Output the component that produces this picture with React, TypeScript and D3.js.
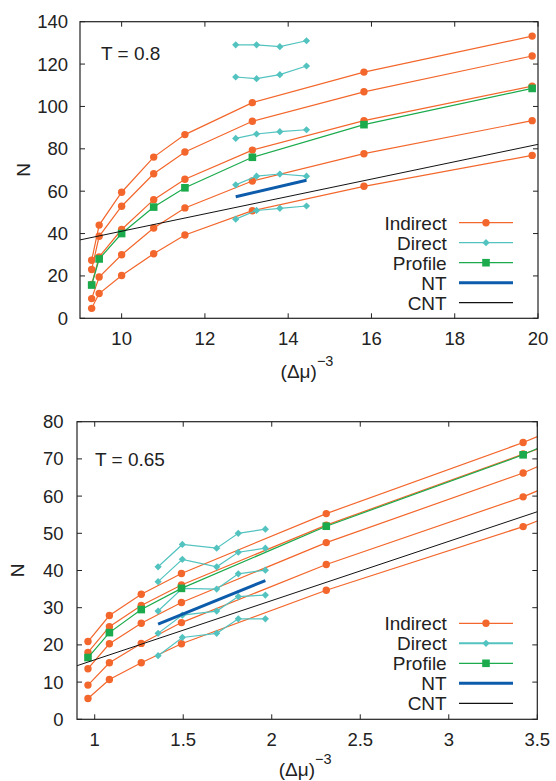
import React from "react";
import * as d3 from "d3";

const W = 556;
const H = 781;

// ---------- Top panel, T = 0.8 ----------
const topIndirectX = [9.28, 9.46, 10.0, 10.77, 11.52, 13.14, 15.82, 19.86];
const topIndirect1 = [27.4, 44, 59.5, 76.1, 86.7, 101.8, 116.2, 133.2];
const topIndirect2 = [23, 38.7, 52.9, 68.2, 78.5, 93, 106.9, 123.8];
const topIndirect3 = [16, 29, 41.9, 56, 65.6, 79.4, 93.3, 109.6];
const topIndirect4 = [9.3, 19.5, 30, 42.6, 52.1, 64.8, 77.7, 93.3];
const topIndirect5 = [4.7, 11.7, 20.2, 30.5, 39.3, 50.8, 62.3, 76.9];
const topProfile = [15.7, 28, 40, 52.5, 61.6, 76, 91.4, 108.5];
const topDirectX = [12.74, 13.24, 13.8, 14.44];
const topDirect1 = [129.1, 129.1, 128.2, 131];
const topDirect2 = [113.9, 113.1, 115, 119.1];
const topDirect3 = [84.9, 87, 88.1, 89];
const topDirect4 = [63, 67.1, 68.1, 67.1];
const topDirect5 = [46.8, 50.9, 51.9, 53];
const topNTX = [12.74, 14.44];
const topNT = [57.4, 65.2];
const topCNTX = [9, 20];
const topCNT = [37, 82.1];
const topXTicks = [10, 12, 14, 16, 18, 20];
const topYTicks = [0, 20, 40, 60, 80, 100, 120, 140];

// ---------- Bottom panel, T = 0.65 ----------
// the lines keep going past the last marker up to the right edge of the frame
const botIndirectX = [0.962, 1.083, 1.263, 1.49, 2.308, 3.42];
const botEdgeX = 3.5;
const botIndirect1 = [20.9, 27.9, 33.6, 39.2, 55.3, 74.4];
const botIndirect2 = [18, 24.9, 30.6, 36.1, 52.2, 71.3];
const botIndirect3 = [13.6, 20.3, 25.8, 31.4, 47.5, 66.2];
const botIndirect4 = [9.2, 15.2, 20.4, 26, 41.6, 59.8];
const botIndirect5 = [5.6, 10.7, 15.2, 20.3, 34.7, 51.8];
const botIndirectEdge = [76.0, 72.6, 67.9, 61.4, 53.3];
const botProfile = [16.6, 23.3, 29.5, 35.2, 51.9, 71.1];
const botProfileEdge = 72.8;
const botDirectX = [1.358, 1.495, 1.689, 1.811, 1.964];
const botDirect1 = [41, 47, 46, 50, 51.1];
const botDirect2 = [37, 43, 41, 44.9, 46];
const botDirect3 = [29.1, 35.2, 35, 39.1, 40.1];
const botDirect4 = [23.1, 28, 29.1, 33, 33.4];
const botDirect5 = [17.1, 22, 23.1, 27, 27];
const botNTX = [1.358, 1.964];
const botNT = [25.6, 37.3];
const botCNTX = [0.9, 3.5];
const botCNT = [14.4, 55.8];
const botXTicks = [1, 1.5, 2, 2.5, 3, 3.5];
const botYTicks = [0, 10, 20, 30, 40, 50, 60, 70, 80];

const legendLabels = ["Indirect", "Direct", "Profile", "NT", "CNT"];

const ORANGE = "#f3672c";
const CYAN = "#52c3bf";
const GREEN = "#1bab4d";
const BLUE = "#0d5cab";
const BLACK = "#111";
const FONT = "'Liberation Sans', Arial, Helvetica, sans-serif";

type Series = { xs: number[]; ys: number[]; nMarks: number };

const diamond = (r: number) => `M0,${-r}L${r},0L0,${r}L${-r},0Z`;

function Marker({ kind, x, y }: { kind: string; x: number; y: number }) {
  if (kind === "circle") return <circle cx={x} cy={y} r={3.7} fill={ORANGE} />;
  if (kind === "square")
    return <rect x={x - 3.8} y={y - 3.8} width={7.6} height={7.6} fill={GREEN} />;
  return <path d={diamond(3.6)} transform={`translate(${x},${y})`} fill={CYAN} />;
}

type PanelProps = {
  id: string;
  left: number;
  right: number;
  top: number;
  bottom: number;
  xDomain: [number, number];
  yDomain: [number, number];
  xTicks: number[];
  yTicks: number[];
  indirect: Series[];
  direct: Series[];
  profile: Series;
  nt: Series;
  cnt: Series;
  label: string;
  labelX: number;
  labelY: number;
  yLabelGap: number;
  nX: number;
  legendY: number;
  titleDy: number;
  directLegendWidth: number;
};

function Panel(p: PanelProps) {
  const x = d3.scaleLinear().domain(p.xDomain).range([p.left, p.right]);
  const y = d3.scaleLinear().domain(p.yDomain).range([p.bottom, p.top]);
  const line = d3
    .line<[number, number]>()
    .x((d) => x(d[0]))
    .y((d) => y(d[1]));
  const pts = (s: Series) => s.xs.map((v, i) => [v, s.ys[i]] as [number, number]);
  const clipId = `clip-${p.id}`;
  const tickLen = 5;

  const drawSeries = (s: Series, color: string, width: number, kind: string | null, key: string) => (
    <g key={key}>
      <path d={line(pts(s)) || ""} fill="none" stroke={color} strokeWidth={width} />
      {kind &&
        pts(s)
          .slice(0, s.nMarks)
          .map((d, i) => <Marker key={i} kind={kind} x={x(d[0])} y={y(d[1])} />)}
    </g>
  );

  const lx0 = 459;
  const lx1 = 513;
  const lxm = 486;
  const ltx = 446.7;

  return (
    <g>
      <defs>
        <clipPath id={clipId}>
          <rect x={p.left} y={p.top} width={p.right - p.left} height={p.bottom - p.top} />
        </clipPath>
      </defs>
      <g clipPath={`url(#${clipId})`}>
        {p.indirect.map((s, i) => drawSeries(s, ORANGE, 1.2, "circle", `ind${i}`))}
        {p.direct.map((s, i) => drawSeries(s, CYAN, 1.2, "diamond", `dir${i}`))}
        {drawSeries(p.profile, GREEN, 1.2, "square", "prof")}
        {drawSeries(p.nt, BLUE, 3, null, "nt")}
        {drawSeries(p.cnt, BLACK, 1, null, "cnt")}
      </g>

      {/* ticks */}
      {p.xTicks.map((t) => (
        <g key={`xt${t}`}>
          <line x1={x(t)} x2={x(t)} y1={p.bottom} y2={p.bottom - tickLen} stroke="#222" strokeWidth={1} />
          <line x1={x(t)} x2={x(t)} y1={p.top} y2={p.top + tickLen} stroke="#222" strokeWidth={1} />
          <text x={x(t)} y={p.bottom + 26.5} textAnchor="middle" fontSize={18.5} fill="#222">
            {String(t)}
          </text>
        </g>
      ))}
      {p.yTicks.map((t) => (
        <g key={`yt${t}`}>
          <line x1={p.left} x2={p.left + tickLen} y1={y(t)} y2={y(t)} stroke="#222" strokeWidth={1} />
          <line x1={p.right} x2={p.right - tickLen} y1={y(t)} y2={y(t)} stroke="#222" strokeWidth={1} />
          <text x={p.left - p.yLabelGap} y={y(t) + 6.5} textAnchor="end" fontSize={18.5} fill="#222">
            {String(t)}
          </text>
        </g>
      ))}
      <rect
        x={p.left}
        y={p.top}
        width={p.right - p.left}
        height={p.bottom - p.top}
        fill="none"
        stroke="#222"
        strokeWidth={1.2}
      />

      {/* axis titles */}
      <text
        transform={`translate(${p.nX},${(p.top + p.bottom) / 2}) rotate(-90)`}
        textAnchor="middle"
        dominantBaseline="central"
        fontSize={19}
        fill="#222"
      >
        N
      </text>
      <text x={(p.left + p.right) / 2 - 2} y={p.bottom + p.titleDy} textAnchor="middle" fontSize={19} fill="#222">
        (Δμ)
        <tspan dy={-12.5} fontSize={14.5}>
          −3
        </tspan>
      </text>

      <text x={p.labelX} y={p.labelY} fontSize={19} fill="#222">
        {p.label}
      </text>

      {/* legend */}
      {legendLabels.map((lab, i) => {
        const cy = p.legendY + i * 20;
        const color = [ORANGE, CYAN, GREEN, BLUE, BLACK][i];
        const width = i === 3 ? 3 : i === 1 ? p.directLegendWidth : 1.2;
        const kind = ["circle", "diamond", "square", null, null][i];
        return (
          <g key={lab}>
            <text x={ltx} y={cy + 6.8} textAnchor="end" fontSize={19} fill="#222">
              {lab}
            </text>
            <line x1={lx0} x2={lx1} y1={cy} y2={cy} stroke={color} strokeWidth={width} />
            {kind && <Marker kind={kind} x={lxm} y={cy} />}
          </g>
        );
      })}
    </g>
  );
}

export default function App() {
  const ser = (xs: number[], ys: number[], nMarks?: number): Series => ({
    xs,
    ys,
    nMarks: nMarks ?? ys.length,
  });
  const topInd = [topIndirect1, topIndirect2, topIndirect3, topIndirect4, topIndirect5].map((ys) =>
    ser(topIndirectX, ys)
  );
  const topDir = [topDirect1, topDirect2, topDirect3, topDirect4, topDirect5].map((ys) =>
    ser(topDirectX, ys)
  );
  const botXs = [...botIndirectX, botEdgeX];
  const botInd = [botIndirect1, botIndirect2, botIndirect3, botIndirect4, botIndirect5].map((ys, i) =>
    ser(botXs, [...ys, botIndirectEdge[i]], ys.length)
  );
  const botDir = [botDirect1, botDirect2, botDirect3, botDirect4, botDirect5].map((ys) =>
    ser(botDirectX, ys)
  );

  return (
    <div style={{ position: "absolute", left: 0, top: 0 }}>
      <svg width={W} height={H} style={{ display: "block", background: "#fff", fontFamily: FONT }}>
        <Panel
          id="top"
          left={80}
          right={538}
          top={21.7}
          bottom={318.3}
          xDomain={[9, 20]}
          yDomain={[0, 140]}
          xTicks={topXTicks}
          yTicks={topYTicks}
          indirect={topInd}
          direct={topDir}
          profile={ser(topIndirectX, topProfile)}
          nt={ser(topNTX, topNT)}
          cnt={ser(topCNTX, topCNT)}
          label="T = 0.8"
          labelX={101}
          labelY={60}
          yLabelGap={12}
          nX={23.5}
          legendY={222.7}
          titleDy={60}
          directLegendWidth={1.2}
        />
        <Panel
          id="bot"
          left={77}
          right={537.3}
          top={421.7}
          bottom={719.3}
          xDomain={[0.9, 3.5]}
          yDomain={[0, 80]}
          xTicks={botXTicks}
          yTicks={botYTicks}
          indirect={botInd}
          direct={botDir}
          profile={ser(botXs, [...botProfile, botProfileEdge], botProfile.length)}
          nt={ser(botNTX, botNT)}
          cnt={ser(botCNTX, botCNT)}
          label="T = 0.65"
          labelX={95}
          labelY={466}
          yLabelGap={13.4}
          nX={17}
          legendY={623.3}
          titleDy={57}
          directLegendWidth={2}
        />
      </svg>
    </div>
  );
}
